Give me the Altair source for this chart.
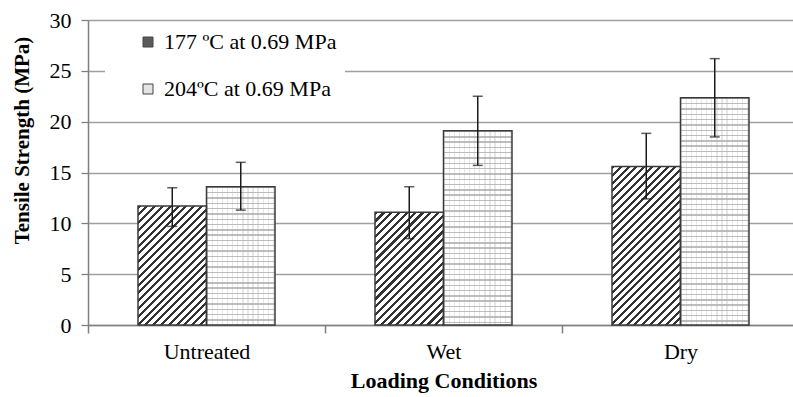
import altair as alt
import pandas as pd

# ---------------- data ----------------
conditions = ["Untreated", "Wet", "Dry"]
series = ["177 ºC at 0.69 MPa", "204ºC at 0.69 MPa"]
mean_177 = [11.7, 11.1, 15.6]
low_177 = [9.7, 8.5, 12.4]
high_177 = [13.5, 13.6, 18.85]
mean_204 = [13.6, 19.1, 22.35]
low_204 = [11.3, 15.7, 18.5]
high_204 = [16.0, 22.5, 26.2]
y_ticks = [0, 5, 10, 15, 20, 25, 30]

rows = []
for i, c in enumerate(conditions):
    rows.append(dict(cond=c, series=series[0], mean=mean_177[i], low=low_177[i], high=high_177[i]))
    rows.append(dict(cond=c, series=series[1], mean=mean_204[i], low=low_204[i], high=high_204[i]))
df = pd.DataFrame(rows)

# ---------------- layout ----------------
W, H = 705, 305
STEP = 237
Y_MAX = 30
OUTER = 0.73
BAR_W = STEP / (2 + 2 * OUTER)
FONT = "Liberation Serif"

def px_height(v):
    return v / Y_MAX * H

def hatch_gradient(h, w, period=7.8, frac=0.4, dark="#333333", light="#ffffff"):
    total = w + h
    stops = []
    k = 0
    while k * period < total:
        a = k * period / total
        b = min((k * period + frac * period) / total, 1.0)
        c = min((k + 1) * period / total, 1.0)
        stops += [dict(offset=a, color=dark), dict(offset=b, color=dark),
                  dict(offset=b, color=light), dict(offset=c, color=light)]
        k += 1
    den = w * w + h * h
    return dict(gradient="linear", x1=0, y1=0,
                x2=w * (w + h) / den, y2=h * (w + h) / den, stops=stops)

def line_gradient(length, horizontal_lines, period, thick, color, bg):
    stops = []
    k = 0
    while k * period < length:
        a = k * period / length
        b = min((k * period + thick) / length, 1.0)
        c = min((k + 1) * period / length, 1.0)
        stops += [dict(offset=a, color=color), dict(offset=b, color=color),
                  dict(offset=b, color=bg), dict(offset=c, color=bg)]
        k += 1
    if horizontal_lines:
        return dict(gradient="linear", x1=0, y1=0, x2=0, y2=1, stops=stops)
    return dict(gradient="linear", x1=0, y1=0, x2=1, y2=0, stops=stops)

# ---------------- encodings ----------------
x_enc = alt.X(
    "cond:N", sort=conditions,
    scale=alt.Scale(range=[0, STEP * 3], paddingInner=0, paddingOuter=0),
    axis=alt.Axis(
        title="Loading Conditions", titleFont=FONT, titleFontSize=22, titleFontWeight="bold",
        titleColor="black", titlePadding=8,
        labelFont=FONT, labelFontSize=22, labelColor="black", labelAngle=0, labelPadding=8,
        tickBand="extent", tickSize=8, tickColor="#808080", tickWidth=1.5,
        domainColor="#808080", domainWidth=1.5, grid=False,
    ),
)
xo_enc = alt.XOffset("series:N", sort=series,
                     scale=alt.Scale(paddingInner=0, paddingOuter=OUTER))

y_axis = alt.Axis(
    title="Tensile Strength (MPa)", titleFont=FONT, titleFontSize=21, titleFontWeight="bold",
    titleColor="black", titleX=-66, titleY=120, titleBaseline="middle", titleAngle=-90,
    labelFont=FONT, labelFontSize=22, labelColor="black", labelPadding=10,
    values=y_ticks, tickSize=7, tickColor="#808080", tickWidth=1.3,
    domainColor="#808080", domainWidth=1.5,
    grid=True, gridColor="#a0a0a0", gridWidth=1.3,
)
y_scale = alt.Scale(domain=[0, Y_MAX], nice=False)

base = alt.Chart(df)

legend_layer = base.mark_bar().encode(
    x=x_enc, xOffset=xo_enc,
    y=alt.Y("mean:Q", scale=y_scale, axis=y_axis),
    fill=alt.Fill(
        "series:N", sort=series,
        scale=alt.Scale(domain=series, range=["#5a5a5a", "#e4e4e4"]),
        legend=alt.Legend(
            title=None, orient="none", legendX=17, legendY=3,
            fillColor="white", padding=8,
            labelFont=FONT, labelFontSize=22, labelColor="black", labelLimit=400,
            symbolType="square", symbolSize=100, symbolStrokeColor="#444444",
            symbolStrokeWidth=1, symbolOffset=24, labelOffset=5, rowPadding=25,
        ),
    ),
)

layers = [legend_layer]

# hatched bars (177 ºC)
for i, c in enumerate(conditions):
    g = hatch_gradient(px_height(mean_177[i]), BAR_W)
    layers.append(
        base.transform_filter(
            (alt.datum.cond == c) & (alt.datum.series == series[0])
        ).mark_bar(fill=g).encode(
            x=x_enc, xOffset=xo_enc, y=alt.Y("mean:Q", scale=y_scale, axis=y_axis)
        )
    )

# brick bars (204 ºC): mortar rows
for i, c in enumerate(conditions):
    g = line_gradient(px_height(mean_204[i]), True, 5.3, 1.4, "#bdbdbd", "#ffffff")
    layers.append(
        base.transform_filter(
            (alt.datum.cond == c) & (alt.datum.series == series[1])
        ).mark_bar(fill=g).encode(
            x=x_enc, xOffset=xo_enc, y=alt.Y("mean:Q", scale=y_scale, axis=y_axis)
        )
    )

# brick joints (faint vertical lines)
gj = line_gradient(BAR_W, False, 5.1, 1.3, "rgba(175,175,175,0.3)", "rgba(255,255,255,0)")
layers.append(
    base.transform_filter(alt.datum.series == series[1]).mark_bar(fill=gj).encode(
        x=x_enc, xOffset=xo_enc, y=alt.Y("mean:Q", scale=y_scale, axis=y_axis)
    )
)

# outlines
layers.append(
    base.mark_bar(fillOpacity=0, stroke="#3a3a3a", strokeWidth=1.5).encode(
        x=x_enc, xOffset=xo_enc, y=alt.Y("mean:Q", scale=y_scale, axis=y_axis)
    )
)

# error bars
layers.append(
    base.mark_rule(color="#1a1a1a", strokeWidth=1.5).encode(
        x=x_enc, xOffset=xo_enc,
        y=alt.Y("low:Q", scale=y_scale, axis=y_axis), y2="high:Q",
    )
)
for fld in ["low", "high"]:
    layers.append(
        base.mark_tick(orient="horizontal", size=10, thickness=1.5, color="#1a1a1a").encode(
            x=x_enc, xOffset=xo_enc,
            y=alt.Y(f"{fld}:Q", scale=y_scale, axis=y_axis),
        )
    )

chart = alt.layer(*layers).properties(
    width=W, height=H,
    autosize=alt.AutoSizeParams(type="none"),
    padding={"left": 88, "top": 20, "right": 0, "bottom": 72},
    background="white",
).configure_view(stroke=None)

chart.save("out.html", embed_options={"renderer": "svg", "actions": False})
